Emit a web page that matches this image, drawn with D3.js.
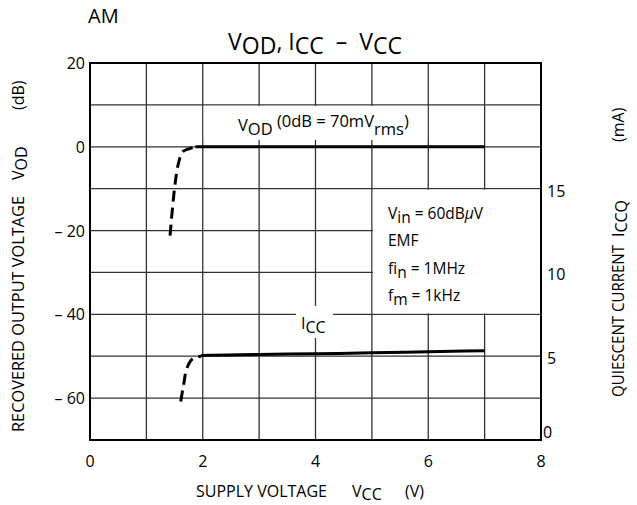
<!DOCTYPE html>
<html><head><meta charset="utf-8">
<script src="https://cdn.jsdelivr.net/npm/d3@7"></script>
<style>body{margin:0;background:#fff}svg text{font-family:"Open Sans",sans-serif;fill:#000;white-space:pre}</style>
</head><body><svg id="c" width="637" height="505"></svg>
<script>
// ---- data ----
const xTicks = [0, 2, 4, 6, 8];
const yLeftTicks = [20, 0, -20, -40, -60];
const yLeftTickLabels = ["20", "0", "\u2013 20", "\u2013 40", "\u2013 60"];
const yRightTicks = [15, 10, 5, 0];
const vodDashedV = [1.42, 1.50, 1.57, 1.65, 1.80, 1.87];
const vodDashedDb = [-21.2, -9.9, -3.9, -1.1, -0.3, 0];
const vodSolidV = [1.87, 2, 3, 4, 5, 6, 7];
const vodSolidDb = [0, 0, 0, 0, 0, 0, 0];
const iccDashedV = [1.61, 1.66, 1.72, 1.82, 1.97];
const iccDashedMa = [2.3, 3.3, 4.3, 4.85, 5.0];
const iccSolidV = [1.97, 2, 3, 4, 5, 6, 7];
const iccSolidMa = [5.0, 5.05, 5.1, 5.15, 5.2, 5.27, 5.33];

const svg = d3.select("#c");
const x = d3.scaleLinear().domain([0, 8]).range([90, 541]);
const y = d3.scaleLinear().domain([-70, 20]).range([440, 63]);
const yR = d3.scaleLinear().domain([0, 22.5]).range([440, 63]);

// grid
const g = svg.append("g");
g.selectAll("line.v").data(d3.range(1, 8)).join("line")
  .attr("x1", d => x(d)).attr("x2", d => x(d)).attr("y1", y(20)).attr("y2", y(-70))
  .attr("stroke", "#333").attr("stroke-width", 1.3);
g.selectAll("line.h").data(d3.range(-60, 20, 10)).join("line")
  .attr("y1", d => y(d)).attr("y2", d => y(d)).attr("x1", x(0)).attr("x2", x(8))
  .attr("stroke", "#333").attr("stroke-width", 1.3);

// white boxes
svg.append("rect").attr("x", x(5) + 1).attr("y", y(-10) + 1)
  .attr("width", x(8) - x(5) - 2).attr("height", y(-40) - y(-10) - 2).attr("fill", "#fff");
svg.append("rect").attr("x", x(2) + 1).attr("y", y(10) + 1)
  .attr("width", x(6) - x(2) - 2).attr("height", 34).attr("fill", "#fff");
svg.append("rect").attr("x", 296).attr("y", 306).attr("width", 37).attr("height", 32).attr("fill", "#fff");

// frame
svg.append("rect").attr("x", x(0)).attr("y", y(20)).attr("width", x(8) - x(0)).attr("height", y(-70) - y(20))
  .attr("fill", "none").attr("stroke", "#000").attr("stroke-width", 2);

const lineL = d3.line().x(d => x(d[0])).y(d => y(d[1])).curve(d3.curveMonotoneX);
const lineR = d3.line().x(d => x(d[0])).y(d => yR(d[1])).curve(d3.curveMonotoneX);
const lineLs = d3.line().x(d => x(d[0])).y(d => y(d[1])).curve(d3.curveCatmullRom);
const lineRs = d3.line().x(d => x(d[0])).y(d => yR(d[1])).curve(d3.curveCatmullRom);

svg.append("path").attr("d", lineLs(d3.zip(vodDashedV, vodDashedDb)))
  .attr("fill", "none").attr("stroke", "#000").attr("stroke-width", 3).attr("stroke-dasharray", "11,6");
svg.append("path").attr("d", lineL(d3.zip(vodSolidV, vodSolidDb)))
  .attr("fill", "none").attr("stroke", "#000").attr("stroke-width", 3);
svg.append("path").attr("d", lineRs(d3.zip(iccDashedV, iccDashedMa)))
  .attr("fill", "none").attr("stroke", "#000").attr("stroke-width", 3).attr("stroke-dasharray", "11,6");
svg.append("path").attr("d", lineR(d3.zip(iccSolidV, iccSolidMa)))
  .attr("fill", "none").attr("stroke", "#000").attr("stroke-width", 3);

// tick labels
svg.selectAll("text.xt").data(xTicks).join("text")
  .attr("x", d => x(d)).attr("y", 467).attr("text-anchor", "middle").attr("font-size", 16).text(d => d);
svg.selectAll("text.yl").data(yLeftTicks).join("text")
  .attr("x", 85).attr("y", d => y(d) + 6).attr("text-anchor", "end").attr("font-size", 16)
  .text((d, i) => yLeftTickLabels[i]);
svg.selectAll("text.yr").data(yRightTicks).join("text")
  .attr("x", d => d === 0 ? 543 : 547).attr("y", d => d === 0 ? yR(d) - 2 : yR(d) + 8)
  .attr("text-anchor", "start").attr("font-size", 16).text(d => d);

function sub(t, parts) {
  parts.forEach(p => {
    const ts = t.append("tspan").text(p[0]);
    if (p[1]) ts.attr("baseline-shift", p[1]);
    if (p[2]) ts.attr("font-size", p[2]);
    if (p[3]) ts.attr("font-style", p[3]);
  });
}

// top texts
svg.append("text").attr("x", 88).attr("y", 23).attr("font-size", 20).text("AM");
const title = svg.append("text").attr("x", 315).attr("y", 50).attr("text-anchor", "middle").attr("font-size", 23);
sub(title, [["V"], ["OD", "-4"], [", "], ["I"], ["CC", "-4"], ["  \u2013  "], ["V"], ["CC", "-4"]]);

// axis titles (pieces placed separately)
function rotText(cx, cyStart, parts, len) {
  const t = svg.append("text").attr("transform", `translate(${cx},${cyStart}) rotate(-90)`).attr("font-size", 16)
    .call(t => sub(t, parts));
  if (len) t.attr("textLength", len).attr("lengthAdjust", "spacingAndGlyphs");
}
rotText(24, 432, [["RECOVERED OUTPUT VOLTAGE"]], 236);
rotText(24, 180, [["V"], ["OD", "-3"]]);
rotText(24, 110, [["(dB)"]]);
rotText(624, 397, [["QUIESCENT CURRENT"]], 152);
rotText(624, 237, [["I"], ["CCQ", "-3"]]);
rotText(624, 142, [["(mA)"]]);
svg.append("text").attr("x", 196).attr("y", 497).attr("font-size", 16).text("SUPPLY VOLTAGE");
svg.append("text").attr("x", 352).attr("y", 497).attr("font-size", 16)
  .call(t => sub(t, [["V"], ["CC", "-3"]]));
svg.append("text").attr("x", 405).attr("y", 497).attr("font-size", 16).text("(V)");

// curve labels
svg.append("text").attr("x", 238).attr("y", 131).attr("font-size", 16.5)
  .call(t => sub(t, [["V"], ["OD", "-4"], [" (0dB = 70mV", "4"], ["rms", "-4"], [")", "4"]]));
svg.append("text").attr("x", 301).attr("y", 329).attr("font-size", 16)
  .call(t => sub(t, [["I"], ["CC", "-4"]]));

// conditions
const cx = 388;
svg.append("text").attr("x", cx).attr("y", 219).attr("font-size", 15.5)
  .call(t => sub(t, [["V"], ["in", "-4"], [" = 60dB"], ["\u03bc", null, null, "italic"], ["V"]]));
svg.append("text").attr("x", cx).attr("y", 246).attr("font-size", 15.5).text("EMF");
svg.append("text").attr("x", cx).attr("y", 274).attr("font-size", 15.5)
  .call(t => sub(t, [["f"], ["in", "-4"], [" = 1MHz"]]));
svg.append("text").attr("x", cx).attr("y", 301).attr("font-size", 15.5)
  .call(t => sub(t, [["f"], ["m", "-4"], [" = 1kHz"]]));
</script></body></html>
